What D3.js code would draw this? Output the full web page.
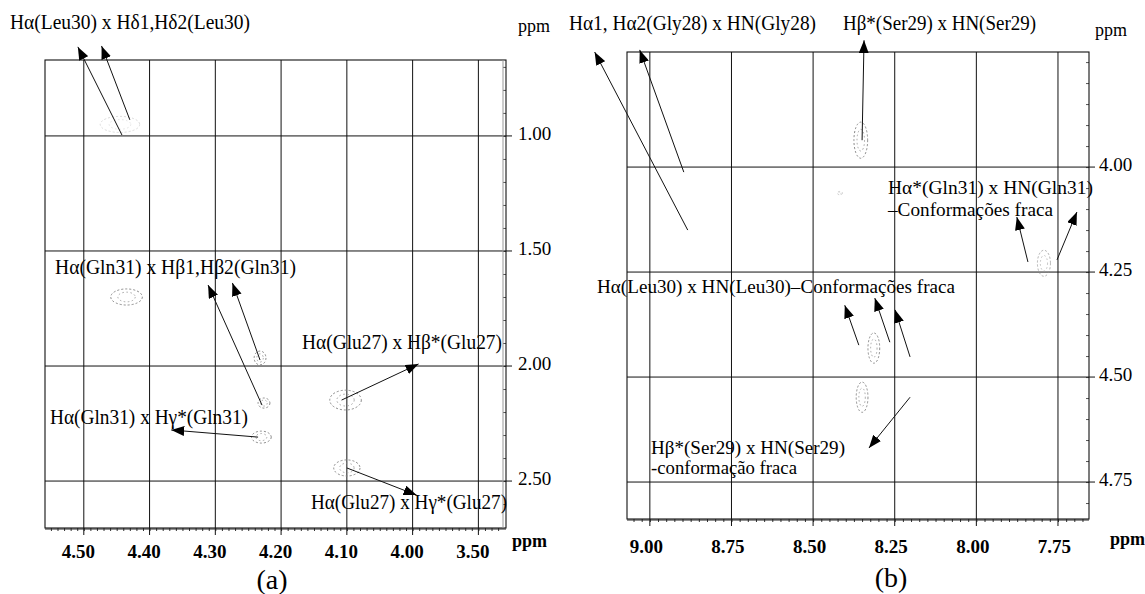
<!DOCTYPE html>
<html>
<head>
<meta charset="utf-8">
<script src="https://cdn.jsdelivr.net/npm/d3@7"></script>
<style>
  body { margin: 0; background: #fff; }
  svg { display: block; }
  text { font-family: "Liberation Serif", "Times New Roman", serif; fill: #000; }
</style>
</head>
<body>
<svg id="chart"></svg>
<script>
// ---- panel (a): Hα x side chain region ----
const ticksAx = [4.50, 4.40, 4.30, 4.20, 4.10, 4.00, 3.90];
const tickLabelsAx = ["4.50", "4.40", "4.30", "4.20", "4.10", "4.00", "3.50"];
const ticksAy = [1.00, 1.50, 2.00, 2.50];
const tickLabelsAy = ["1.00", "1.50", "2.00", "2.50"];
// cross peaks: [x ppm, y ppm, half width x, half width y, intensity 0-1]
const peaksA = [
  [4.445, 0.950, 0.030, 0.035, 0.3],
  [4.435, 1.700, 0.024, 0.035, 1],
  [4.232, 1.965, 0.009, 0.030, 1],
  [4.226, 2.161, 0.009, 0.022, 1],
  [4.230, 2.309, 0.015, 0.026, 1],
  [4.102, 2.148, 0.024, 0.043, 1],
  [4.100, 2.443, 0.020, 0.035, 1]
];
// arrows: [from x, from y, to x, to y] in ppm
const arrowsA = [
  [4.442, 0.996, 4.509, 0.613],
  [4.430, 0.930, 4.473, 0.609],
  [4.229, 2.170, 4.311, 1.648],
  [4.232, 1.974, 4.274, 1.639],
  [4.235, 2.309, 4.367, 2.278],
  [4.108, 2.148, 3.991, 1.991],
  [4.100, 2.443, 3.994, 2.561]
];
const labelsA = [
  "Hα(Leu30) x Hδ1,Hδ2(Leu30)",
  "Hα(Gln31) x Hβ1,Hβ2(Gln31)",
  "Hα(Glu27) x Hβ*(Glu27)",
  "Hα(Gln31) x Hγ*(Gln31)",
  "Hα(Glu27) x Hγ*(Glu27)"
];

// ---- panel (b): Hα x HN region ----
const ticksBx = [9.00, 8.75, 8.50, 8.25, 8.00, 7.75];
const tickLabelsBx = ["9.00", "8.75", "8.50", "8.25", "8.00", "7.75"];
const ticksBy = [4.00, 4.25, 4.50, 4.75];
const tickLabelsBy = ["4.00", "4.25", "4.50", "4.75"];
const peaksB = [
  [8.354, 3.936, 0.021, 0.043, 1],
  [7.793, 4.229, 0.020, 0.031, 0.7],
  [8.314, 4.431, 0.018, 0.036, 1],
  [8.350, 4.548, 0.018, 0.036, 1],
  [8.418, 4.062, 0.008, 0.004, 0.4]
];
const arrowsB = [
  [8.884, 4.150, 9.169, 3.726],
  [8.896, 4.012, 9.031, 3.721],
  [8.350, 3.936, 8.344, 3.698],
  [7.842, 4.226, 7.876, 4.119],
  [7.753, 4.221, 7.692, 4.107],
  [8.360, 4.424, 8.403, 4.329],
  [8.265, 4.417, 8.311, 4.312],
  [8.203, 4.452, 8.249, 4.340],
  [8.203, 4.548, 8.329, 4.669]
];
const labelsB = [
  "Hα1, Hα2(Gly28) x HN(Gly28)",
  "Hβ*(Ser29) x HN(Ser29)",
  "Hα*(Gln31) x HN(Gln31)",
  "–Conformações fraca",
  "Hα(Leu30) x HN(Leu30)–Conformações fraca",
  "Hβ*(Ser29) x HN(Ser29)",
  "-conformação fraca"
];

// label placement (pixels): [x, y centre, width, font size]
const labelPosA = [
  [10, 22, 240, 20], [55, 267, 241, 20], [302, 342, 200, 20],
  [50, 417, 198, 20], [311, 502, 196, 20]
];
const labelPosB = [
  [569, 23, 247, 20], [843, 23, 193, 20], [888, 188, 205, 18],
  [888, 210, 165, 18], [597, 287, 358, 18], [651, 448, 194, 18],
  [651, 468, 146, 18]
];

const width = 1145, height = 594;
const svg = d3.select("#chart").attr("width", width).attr("height", height);

svg.append("rect").attr("width", width).attr("height", height).attr("fill", "#fff");

const defs = svg.append("defs");
defs.append("marker")
  .attr("id", "head")
  .attr("viewBox", "0 0 13 10")
  .attr("refX", 13).attr("refY", 5)
  .attr("markerWidth", 13).attr("markerHeight", 10)
  .attr("markerUnits", "userSpaceOnUse")
  .attr("orient", "auto")
  .append("path")
  .attr("d", "M0,0L13,5L0,10Z")
  .attr("fill", "#000");

const drawPanel = (p) => {
  const g = svg.append("g");
  const x = d3.scaleLinear().domain(p.xDomain).range(p.xRange);
  const y = d3.scaleLinear().domain(p.yDomain).range(p.yRange);
  const [x0, x1] = p.xRange;
  const [y0, y1] = p.yRange;

  // minor ticks along the bottom and right
  g.append("g")
    .attr("transform", `translate(0,${y1})`)
    .call(d3.axisBottom(x).tickValues(d3.range(p.minorX[0], p.minorX[1], p.minorX[2])).tickSize(3).tickFormat(""))
    .call((a) => a.select(".domain").remove())
    .selectAll("line").attr("stroke", "#333");
  g.append("g")
    .attr("transform", `translate(${x1},0)`)
    .call(d3.axisLeft(y).tickValues(d3.range(p.minorY[0], p.minorY[1], p.minorY[2])).tickSize(3).tickFormat(""))
    .call((a) => a.select(".domain").remove())
    .selectAll("line").attr("stroke", "#555");

  // grid lines
  g.append("g").selectAll("line.vg")
    .data(p.ticksX).enter().append("line")
    .attr("x1", (d) => x(d)).attr("x2", (d) => x(d))
    .attr("y1", y0).attr("y2", y1 + 7)
    .attr("stroke", "#111").attr("stroke-width", 1);
  g.append("g").selectAll("line.hg")
    .data(p.ticksY).enter().append("line")
    .attr("x1", x0).attr("x2", x1 + 6)
    .attr("y1", (d) => y(d)).attr("y2", (d) => y(d))
    .attr("stroke", "#111").attr("stroke-width", 1);

  // frame
  g.append("rect")
    .attr("x", x0).attr("y", y0)
    .attr("width", x1 - x0).attr("height", y1 - y0)
    .attr("fill", "none").attr("stroke", "#111").attr("stroke-width", 1.1);
  g.append("line")
    .attr("x1", x0).attr("x2", x1).attr("y1", y1 + 1).attr("y2", y1 + 1)
    .attr("stroke", "#222").attr("stroke-width", 1.2);
  if (p.doubleRight) {
    g.append("line")
      .attr("x1", x1 - 3).attr("x2", x1 - 3).attr("y1", y0).attr("y2", y1)
      .attr("stroke", "#999").attr("stroke-width", 1);
  }

  // tick labels
  const bottom = d3.axisBottom(x).tickValues(p.ticksX).tickSize(0)
    .tickFormat((d, i) => p.tickLabelsX[i]);
  g.append("g")
    .attr("transform", `translate(${p.bottomDx},${y1 + p.bottomGap})`)
    .call(bottom)
    .call((a) => a.select(".domain").remove())
    .selectAll("text")
    .attr("font-size", 19).attr("font-weight", "bold");

  const right = d3.axisRight(y).tickValues(p.ticksY).tickSize(0)
    .tickFormat((d, i) => p.tickLabelsY[i]);
  g.append("g")
    .attr("transform", `translate(${x1 + p.rightGap},-3)`)
    .call(right)
    .call((a) => a.select(".domain").remove())
    .selectAll("text")
    .attr("font-size", 19);

  // ppm unit labels
  g.append("text").attr("x", p.ppmTop[0]).attr("y", p.ppmTop[1])
    .attr("font-size", 18).text("ppm");
  g.append("text").attr("x", p.ppmBottom[0]).attr("y", p.ppmBottom[1])
    .attr("font-size", 18).attr("font-weight", "bold").text("ppm");

  // panel tag
  g.append("text").attr("x", p.tag[0]).attr("y", p.tag[1])
    .attr("text-anchor", "middle").attr("font-size", 28).text(p.tag[2]);

  // cross peaks (dashed contours)
  const peaks = g.append("g").selectAll("g.peak").data(p.peaks).enter().append("g")
    .attr("opacity", (d) => d[4]);
  peaks.append("ellipse")
    .attr("cx", (d) => x(d[0])).attr("cy", (d) => y(d[1]))
    .attr("rx", (d) => Math.abs(x(d[0] + d[2]) - x(d[0])))
    .attr("ry", (d) => Math.abs(y(d[1] + d[3]) - y(d[1])))
    .attr("fill", "none").attr("stroke", "#8a8a8a")
    .attr("stroke-width", 1).attr("stroke-dasharray", "2,2");
  peaks.append("ellipse")
    .attr("cx", (d) => x(d[0])).attr("cy", (d) => y(d[1]))
    .attr("rx", (d) => 0.55 * Math.abs(x(d[0] + d[2]) - x(d[0])))
    .attr("ry", (d) => 0.6 * Math.abs(y(d[1] + d[3]) - y(d[1])))
    .attr("fill", "none").attr("stroke", "#a5a5a5")
    .attr("stroke-width", 1).attr("stroke-dasharray", "1.5,2.5");

  // annotation arrows
  g.append("g").selectAll("line.arrow").data(p.arrows).enter().append("line")
    .attr("x1", (d) => x(d[0])).attr("y1", (d) => y(d[1]))
    .attr("x2", (d) => x(d[2])).attr("y2", (d) => y(d[3]))
    .attr("stroke", "#111").attr("stroke-width", 1)
    .attr("marker-end", "url(#head)");

  // annotation labels
  g.append("g").selectAll("text.lab").data(p.labels).enter().append("text")
    .attr("x", (d, i) => p.labelPos[i][0])
    .attr("y", (d, i) => p.labelPos[i][1])
    .attr("dy", "0.35em")
    .attr("font-size", (d, i) => p.labelPos[i][3])
    .attr("textLength", (d, i) => p.labelPos[i][2])
    .attr("lengthAdjust", "spacingAndGlyphs")
    .text((d) => d);
};

drawPanel({
  xDomain: [4.559, 3.858], xRange: [45, 506],
  yDomain: [0.670, 2.704], yRange: [60, 528],
  ticksX: ticksAx, tickLabelsX: tickLabelsAx,
  ticksY: ticksAy, tickLabelsY: tickLabelsAy,
  minorX: [3.87, 4.555, 0.01], minorY: [0.7, 2.7, 0.1],
  bottomDx: -6, bottomGap: 13, rightGap: 9,
  doubleRight: true,
  ppmTop: [518, 32], ppmBottom: [512, 547],
  tag: [272, 589, "(a)"],
  peaks: peaksA, arrows: arrowsA, labels: labelsA, labelPos: labelPosA
});

drawPanel({
  xDomain: [9.07, 7.655], xRange: [627, 1089],
  yDomain: [3.726, 4.838], yRange: [52, 519],
  ticksX: ticksBx, tickLabelsX: tickLabelsBx,
  ticksY: ticksBy, tickLabelsY: tickLabelsBy,
  minorX: [7.675, 9.07, 0.025], minorY: [3.75, 4.83, 0.05],
  bottomDx: -4, bottomGap: 17, rightGap: 7,
  doubleRight: false,
  ppmTop: [1095, 36], ppmBottom: [1110, 545],
  tag: [891, 587, "(b)"],
  peaks: peaksB, arrows: arrowsB, labels: labelsB, labelPos: labelPosB
});
</script>
</body>
</html>
